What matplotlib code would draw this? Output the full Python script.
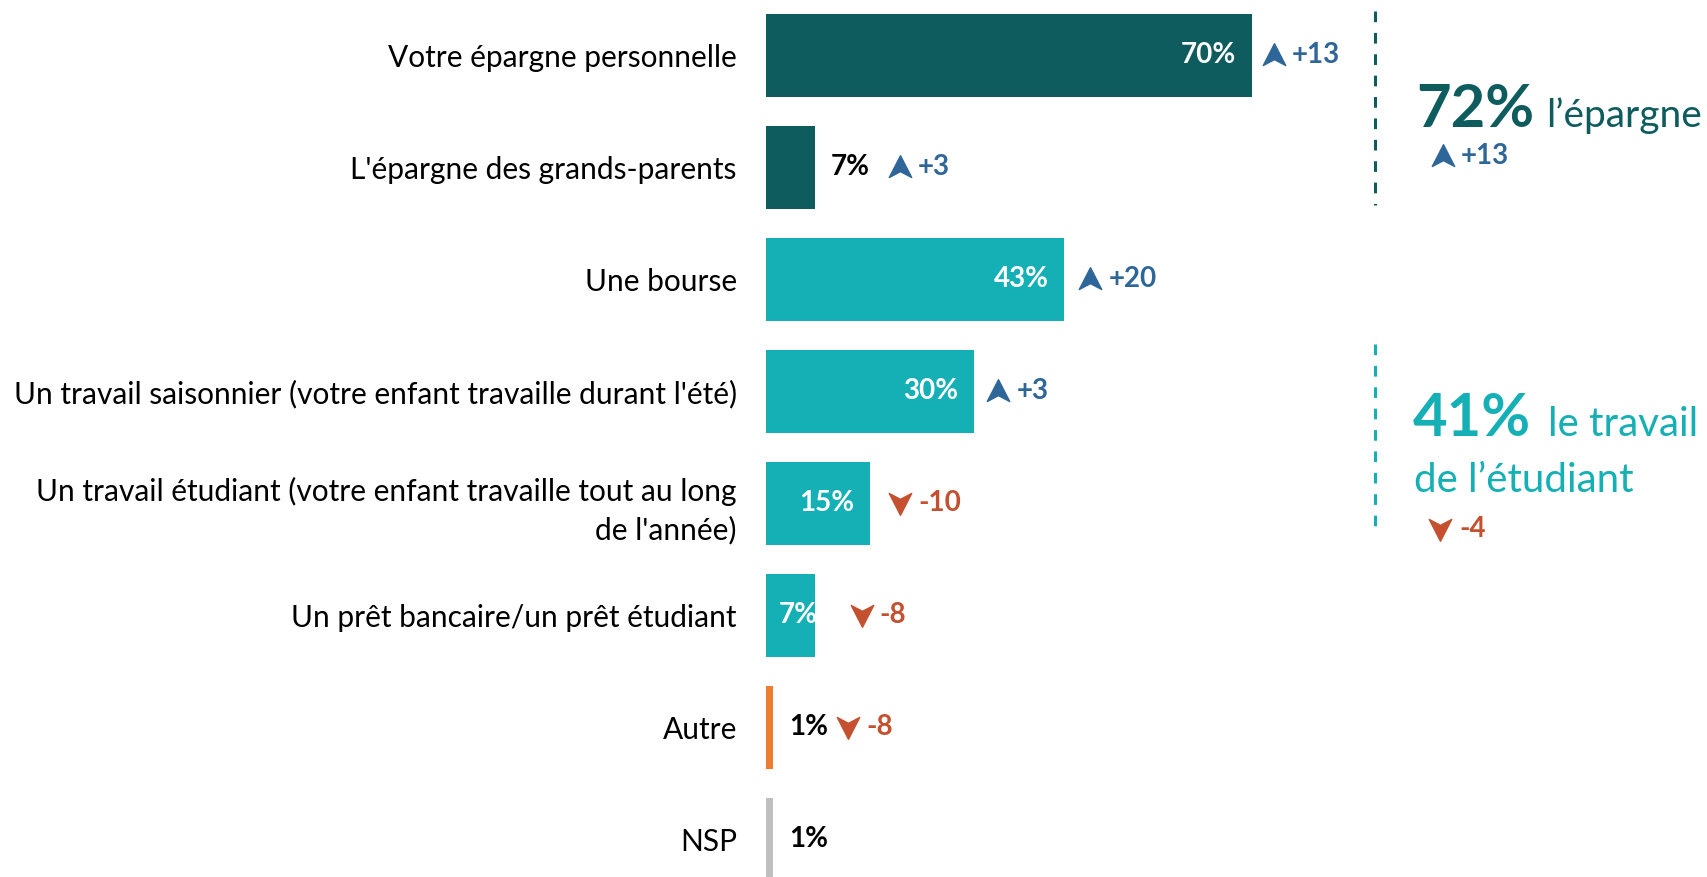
import matplotlib.pyplot as plt
from matplotlib.path import Path

plt.rcParams['font.family'] = ['Lato', 'DejaVu Sans']

# Données
categories = [
    "Votre épargne personnelle",
    "L'épargne des grands-parents",
    "Une bourse",
    "Un travail saisonnier (votre enfant travaille durant l'été)",
    "Un travail étudiant (votre enfant travaille tout au long\nde l'année)",
    "Un prêt bancaire/un prêt étudiant",
    "Autre",
    "NSP",
]
valeurs = [70, 7, 43, 30, 15, 7, 1, 1]
evolutions = [13, 3, 20, 3, -10, -8, -8, None]
etiquette_dedans = [True, False, True, True, True, True, False, False]

total_epargne = 72
evol_epargne = 13
total_travail = 41
evol_travail = -4

# Couleurs
c_fonce = '#0E5C5E'
c_clair = '#15AFB6'
c_orange = '#ED7D31'
c_gris = '#BFBFBF'
c_bleu = '#2F6699'
c_rouge = '#C4502F'
couleurs = [c_fonce, c_fonce, c_clair, c_clair, c_clair, c_clair, c_orange, c_gris]

# Mise en page (pixels)
W, H = 1707, 877
x0 = 766            # début des barres
px_par_pct = 6.94
fleche_dx = [22, 85, 26, 24, 30, 47, 75]

fleche_haut = Path([(0, 1), (0.95, -0.85), (0, -0.35), (-0.95, -0.85), (0, 1)],
                   [Path.MOVETO, Path.LINETO, Path.LINETO, Path.LINETO, Path.CLOSEPOLY])
fleche_bas = Path([(0, -1), (0.95, 0.85), (0, 0.35), (-0.95, 0.85), (0, -1)],
                  [Path.MOVETO, Path.LINETO, Path.LINETO, Path.LINETO, Path.CLOSEPOLY])

fig = plt.figure(figsize=(W / 100, H / 100), dpi=100)
ax = fig.add_axes([x0 / W, 0, 1 - x0 / W, 1])
ax.set_xlim(0, (W - x0) / px_par_pct)
ax.set_ylim(7.335, -0.4955)

y = list(range(len(categories)))
ax.barh(y, valeurs, height=0.74, color=couleurs)

ax.set_yticks(y)
ax.set_yticklabels(categories, fontsize=21.5, color='black')
for lab in ax.get_yticklabels():
    lab.set_linespacing(1.4)
ax.tick_params(axis='y', length=0, pad=21)
ax.set_xticks([])
for s in ax.spines.values():
    s.set_visible(False)

for i, v in enumerate(valeurs):
    if etiquette_dedans[i]:
        dx = -16 if v > 10 else 3
        ax.annotate(f"{v}%", (v, i), xytext=(dx * 0.72, 0), textcoords='offset points',
                    ha='right', va='center', fontsize=20, fontweight='bold', color='white')
    else:
        ax.annotate(f"{v}%", (v, i), xytext=(12, 0), textcoords='offset points',
                    ha='left', va='center', fontsize=20, fontweight='bold', color='black')
    e = evolutions[i]
    if e is None:
        continue
    col = c_bleu if e > 0 else c_rouge
    xa = v + fleche_dx[i] / px_par_pct
    ax.plot(xa, i, marker=fleche_haut if e > 0 else fleche_bas, markersize=17,
            color=col, clip_on=False)
    ax.annotate(f"+{e}" if e > 0 else f"{e}", (xa, i), xytext=(13, 0),
                textcoords='offset points', ha='left', va='center',
                fontsize=20, fontweight='bold', color=col)


def fx(px):
    return px / W


def fy(py):
    return 1 - py / H


# Encadrés de droite
fig.add_artist(plt.Line2D([fx(1375)] * 2, [fy(11), fy(205)], color=c_fonce,
                          lw=2.2, ls=(0, (3.5, 3.5))))
fig.add_artist(plt.Line2D([fx(1375)] * 2, [fy(344), fy(536)], color=c_clair,
                          lw=2.2, ls=(0, (3.5, 3.5))))

fig.text(fx(1416), fy(127), f"{total_epargne}%", fontsize=43, fontweight='bold',
         color=c_fonce, ha='left', va='baseline')
fig.text(fx(1702), fy(127), "l’épargne", fontsize=28, color=c_fonce,
         ha='right', va='baseline')
fig.add_artist(plt.Line2D([fx(1443)], [fy(156)], marker=fleche_haut, markersize=17,
                          color=c_bleu))
fig.text(fx(1461), fy(156), f"+{evol_epargne}", fontsize=20, fontweight='bold',
         color=c_bleu, ha='left', va='center')

fig.text(fx(1413), fy(436), f"{total_travail}%", fontsize=43, fontweight='bold',
         color=c_clair, ha='left', va='baseline')
fig.text(fx(1698), fy(436), "le travail", fontsize=29, color=c_clair,
         ha='right', va='baseline')
fig.text(fx(1414), fy(492), "de l’étudiant", fontsize=29, color=c_clair,
         ha='left', va='baseline')
fig.add_artist(plt.Line2D([fx(1440)], [fy(529)], marker=fleche_bas, markersize=17,
                          color=c_rouge))
fig.text(fx(1459), fy(529), f"{evol_travail}", fontsize=20, fontweight='bold',
         color=c_rouge, ha='left', va='center')

fig.savefig('out.png', dpi=100)
